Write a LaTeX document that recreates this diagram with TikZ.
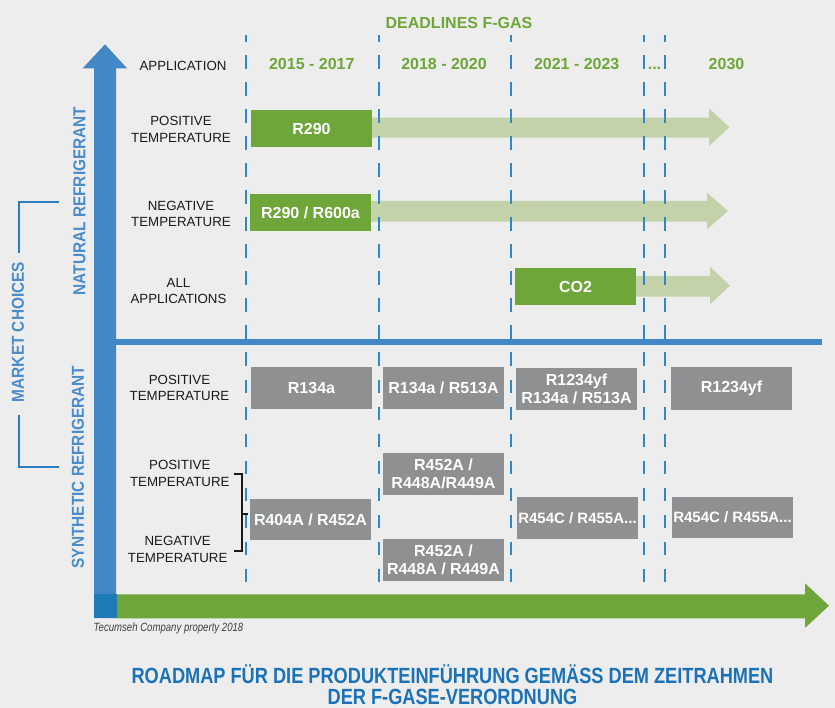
\documentclass[tikz,border=0pt]{standalone}
\usepackage{fontspec}
\setmainfont{Liberation Sans}
\usepackage{graphicx}
\definecolor{bg}{HTML}{EDEDED}
\definecolor{bblue}{HTML}{4287C6}
\definecolor{dblue}{HTML}{1F7BB4}
\definecolor{fgreen}{HTML}{6EA63A}
\definecolor{lgreen}{HTML}{C3D2A8}
\definecolor{boxgrey}{HTML}{8F9092}
\definecolor{dashc}{HTML}{2D89C8}
\definecolor{labc}{HTML}{1A1A1A}
\definecolor{vblue}{HTML}{4A8CCB}
\definecolor{mblue}{HTML}{2A7FC2}
\definecolor{tblue}{HTML}{1B72B9}
\definecolor{copyc}{HTML}{404040}
\begin{document}
\begin{tikzpicture}[x=1pt,y=-1pt,
  gbox/.style={fill=boxgrey, text=white, font=\bfseries\fontsize{16}{18.5}\selectfont,
    minimum width=121pt, minimum height=42pt, inner sep=0pt, align=center},
  grbox/.style={gbox, fill=fgreen, minimum height=37pt},
  rowlab/.style={font=\fontsize{13.3}{16.5}\selectfont, text=labc, align=center, inner sep=0pt},
  yearlab/.style={font=\bfseries\fontsize{16}{19}\selectfont, text=fgreen, anchor=base, inner sep=0pt},
  vlab/.style={rotate=90, text=vblue, inner sep=0pt},
  dashline/.style={draw=dashc, line width=2pt, dash pattern=on 13.5pt off 13.5pt, dash phase=6.5pt},
  blockarrow/.style={fill=lgreen},
]
\fill[bg] (0,0) rectangle (835,708);
\useasboundingbox (0,0) rectangle (835,708);

% light green arrows
\fill[blockarrow] (360,117.7) -- (709,117.7) -- (709,108.3) -- (729.3,127.2) -- (709,146) -- (709,137.7) -- (360,137.7) -- cycle;
\fill[blockarrow] (360,201) -- (707,201) -- (707,192.7) -- (728,211) -- (707,229.3) -- (707,221.7) -- (360,221.7) -- cycle;
\fill[blockarrow] (620,276) -- (710,276) -- (710,266.7) -- (730,285.7) -- (710,304.3) -- (710,296.7) -- (620,296.7) -- cycle;

% dashed year separators
\foreach \x/\n in {246/d1,378.5/d2,510.8/d3,643.8/d4,664.8/d5}{
  \coordinate (\n t) at (\x,35);
  \coordinate (\n b) at (\x,595);
  \draw[dashline] (\n t) -- (\n b);
}

% separator line natural / synthetic
\coordinate (sepL) at (108,342);
\coordinate (sepR) at (822,342);
\draw[bblue, line width=5.3pt] (sepL) -- (sepR);

% blue vertical arrow
\fill[bblue] (94,618) -- (94,68.3) -- (82.7,68.3) -- (105,44.3) -- (127,68.3) -- (116,68.3) -- (116,618) -- cycle;
% green horizontal arrow
\fill[fgreen] (116,594.4) -- (805,594.4) -- (805,583.3) -- (829,605.7) -- (805,627.9) -- (805,618.3) -- (116,618.3) -- cycle;
\fill[dblue] (93.5,594.4) rectangle (116.7,618.3);

% headers
\node[font=\bfseries\fontsize{16}{19}\selectfont, text=fgreen, anchor=base, inner sep=0pt] (deadl) at (459,28.3) {DEADLINES F-GAS};
\node[rowlab, anchor=base] (appl) at (183,70.3) {APPLICATION};
\node[yearlab] (y1) at (311.8,70) {2015 - 2017};
\node[yearlab] (y2) at (444,70) {2018 - 2020};
\node[yearlab] (y3) at (576.7,70) {2021 - 2023};
\node[yearlab] (y4) at (654.5,69.3) {...};
\node[yearlab] (y5) at (726.5,69.3) {2030};

% row labels
\node[rowlab] (l1) at (181,129.5) {POSITIVE\\TEMPERATURE};
\node[rowlab] (l2) at (181,213.8) {NEGATIVE\\TEMPERATURE};
\node[rowlab] (l3) at (178.5,290.8) {ALL\\APPLICATIONS};
\node[rowlab] (l4) at (179.5,388) {POSITIVE\\TEMPERATURE};
\node[rowlab] (l5) at (179.8,473.2) {POSITIVE\\TEMPERATURE};
\node[rowlab] (l6) at (177.7,549.5) {NEGATIVE\\TEMPERATURE};

% bracket
\coordinate (bt0) at (234,474);
\coordinate (bt1) at (242,474);
\coordinate (bb1) at (242,551);
\coordinate (bb0) at (234,551);
\coordinate (bm0) at (242,514);
\coordinate (bm1) at (248,514);
\draw[labc, line width=1.5pt] (bt0) -- (bt1) -- (bb1) -- (bb0);
\draw[labc, line width=1.5pt] (bm0) -- (bm1);

% green boxes
\node[grbox] (r290) at (311.5,128.5) {R290};
\node[grbox] (r600) at (310.5,212.5) {R290 / R600a};
\node[grbox] (co2) at (575.5,286.5) {CO2};

% grey boxes
\node[gbox] (s1) at (311.5,388) {R134a};
\node[gbox] (s2) at (443.5,388) {R134a / R513A};
\node[gbox] (s3) at (576.5,389) {R1234yf\\R134a / R513A};
\node[gbox] (s4) at (731.5,388.5) {R1234yf};
\node[gbox] (s5) at (443.5,474) {R452A /\\R448A/R449A};
\node[gbox, minimum height=41pt] (s6) at (310.5,519.5) {R404A / R452A};
\node[gbox] (s7) at (443.5,560) {R452A /\\R448A / R449A};
\node[gbox, font=\bfseries\fontsize{15}{18}\selectfont] (s8) at (577.5,518) {R454C / R455A...};
\node[gbox, minimum height=41pt, font=\bfseries\fontsize{15}{18}\selectfont] (s9) at (732.5,517.5) {R454C / R455A...};

% vertical labels
\node[vlab] (nat) at (79.5,201) {\scalebox{0.98}[1.1]{\bfseries\fontsize{15.7}{19}\selectfont NATURAL REFRIGERANT}};
\node[vlab] (syn) at (78,467) {\scalebox{0.98}[1.1]{\bfseries\fontsize{15.7}{19}\selectfont SYNTHETIC REFRIGERANT}};
\node[vlab] (mkt) at (18,332) {\scalebox{0.98}[1.1]{\bfseries\fontsize{15.7}{19}\selectfont MARKET CHOICES}};

% market choices bracket
\coordinate (m1) at (59,202);
\coordinate (m2) at (19,202);
\coordinate (m3) at (19,253);
\coordinate (m4) at (19,415);
\coordinate (m5) at (19,467);
\coordinate (m6) at (59,467);
\draw[mblue, line width=2.5pt] (m1) -- (m2) -- (m3);
\draw[mblue, line width=2.5pt] (m4) -- (m5) -- (m6);

% copyright
\node[anchor=base west, inner sep=0pt, text=copyc] (copy) at (93.5,631) {\scalebox{0.8}[1]{\itshape\fontsize{12}{14}\selectfont Tecumseh Company property 2018}};

% title
\node[anchor=base, inner sep=0pt, text=tblue] (t1) at (452.5,683) {\scalebox{0.827}[1]{\bfseries\fontsize{22}{25}\selectfont ROADMAP FÜR DIE PRODUKTEINFÜHRUNG GEMÄSS DEM ZEITRAHMEN}};
\node[anchor=base, inner sep=0pt, text=tblue] (t2) at (452.5,704.5) {\scalebox{0.827}[1]{\bfseries\fontsize{22}{25}\selectfont DER F-GASE-VERORDNUNG}};
\end{tikzpicture}
\end{document}
